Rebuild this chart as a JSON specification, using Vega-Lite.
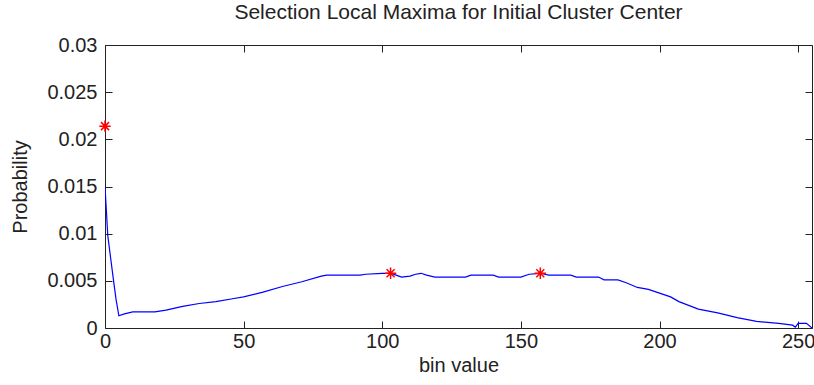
{
  "$schema": "https://vega.github.io/schema/vega-lite/v6.json",
  "width": 707,
  "height": 283,
  "autosize": "none",
  "padding": {"left": 105, "top": 45, "right": 2, "bottom": 57},
  "background": "white",
  "config": {
    "view": {"stroke": null},
    "font": "Liberation Sans",
    "axis": {"domainColor": "#222", "tickColor": "#222", "labelColor": "#222", "titleColor": "#222", "grid": false, "tickSize": -7, "labelFontSize": 20, "titleFontSize": 20, "titleFontWeight": "normal", "labelFont": "Liberation Sans", "titleFont": "Liberation Sans", "labelFlush": false, "labelOverlap": false}
  },
  "title": {"text": "Selection Local Maxima for Initial Cluster Center", "fontSize": 21, "fontWeight": "normal", "color": "#222", "font": "Liberation Sans", "offset": 12},
  "resolve": {"axis": {"x": "independent", "y": "independent"}},
  "layer": [
    {
      "data": {"values": [
        {"bin": 0, "p": 0.0150}, {"bin": 1, "p": 0.0098}, {"bin": 2, "p": 0.0075}, {"bin": 3, "p": 0.0052},
        {"bin": 4, "p": 0.0030}, {"bin": 5, "p": 0.0013}, {"bin": 7, "p": 0.0015}, {"bin": 10, "p": 0.0017},
        {"bin": 18, "p": 0.0017}, {"bin": 22, "p": 0.0019}, {"bin": 28, "p": 0.0023}, {"bin": 34, "p": 0.0026},
        {"bin": 40, "p": 0.0028}, {"bin": 46, "p": 0.0031}, {"bin": 50, "p": 0.0033}, {"bin": 57, "p": 0.0038},
        {"bin": 64, "p": 0.0044}, {"bin": 71, "p": 0.0049}, {"bin": 78, "p": 0.0055}, {"bin": 80, "p": 0.0056},
        {"bin": 92, "p": 0.0056}, {"bin": 94, "p": 0.0057}, {"bin": 100, "p": 0.0058}, {"bin": 103, "p": 0.0058},
        {"bin": 105, "p": 0.0056}, {"bin": 107, "p": 0.0054}, {"bin": 110, "p": 0.0055}, {"bin": 112, "p": 0.0057},
        {"bin": 114, "p": 0.0058}, {"bin": 116, "p": 0.0056}, {"bin": 119, "p": 0.0054}, {"bin": 130, "p": 0.0054},
        {"bin": 132, "p": 0.0056}, {"bin": 140, "p": 0.0056}, {"bin": 142, "p": 0.0054}, {"bin": 150, "p": 0.0054},
        {"bin": 153, "p": 0.0057}, {"bin": 157, "p": 0.0058}, {"bin": 160, "p": 0.0056}, {"bin": 168, "p": 0.0056},
        {"bin": 170, "p": 0.0054}, {"bin": 178, "p": 0.0054}, {"bin": 180, "p": 0.0051}, {"bin": 185, "p": 0.0051},
        {"bin": 188, "p": 0.0048}, {"bin": 192, "p": 0.0043}, {"bin": 196, "p": 0.0041}, {"bin": 200, "p": 0.0037},
        {"bin": 204, "p": 0.0033}, {"bin": 207, "p": 0.0028}, {"bin": 214, "p": 0.0020}, {"bin": 221, "p": 0.0016},
        {"bin": 228, "p": 0.0011}, {"bin": 235, "p": 0.0007}, {"bin": 243, "p": 0.0005}, {"bin": 248, "p": 0.0003},
        {"bin": 249, "p": 0.0001}, {"bin": 250, "p": 0.0005}, {"bin": 253, "p": 0.0005}, {"bin": 255, "p": 0.0000}
      ]},
      "mark": {"type": "line", "color": "#0000ff", "strokeWidth": 1.2, "clip": true},
      "encoding": {
        "x": {"field": "bin", "type": "quantitative", "scale": {"domain": [0, 255], "nice": false, "zero": false},
          "axis": {"orient": "bottom", "values": [0, 50, 100, 150, 200, 250], "title": "bin value", "labelPadding": 10, "titlePadding": 4}},
        "y": {"field": "p", "type": "quantitative", "scale": {"domain": [0, 0.03], "nice": false},
          "axis": {"orient": "left", "values": [0, 0.005, 0.01, 0.015, 0.02, 0.025, 0.03], "format": "~g", "title": "Probability", "labelPadding": 15, "titlePadding": 16}}
      }
    },
    {
      "data": {"values": [
        {"bin": 0, "p": 0.0214}, {"bin": 103, "p": 0.0058}, {"bin": 157, "p": 0.0058}
      ]},
      "mark": {"type": "point", "shape": "M-1,0L1,0M0,-1L0,1M-0.7,-0.7L0.7,0.7M-0.7,0.7L0.7,-0.7", "filled": false, "stroke": "#ff0000", "strokeWidth": 1.5, "size": 130, "opacity": 1, "clip": false},
      "encoding": {
        "x": {"field": "bin", "type": "quantitative", "axis": {"orient": "top", "values": [0, 50, 100, 150, 200, 250], "labels": false, "title": null}},
        "y": {"field": "p", "type": "quantitative", "axis": {"orient": "right", "values": [0, 0.005, 0.01, 0.015, 0.02, 0.025, 0.03], "labels": false, "title": null}}
      }
    }
  ]
}
